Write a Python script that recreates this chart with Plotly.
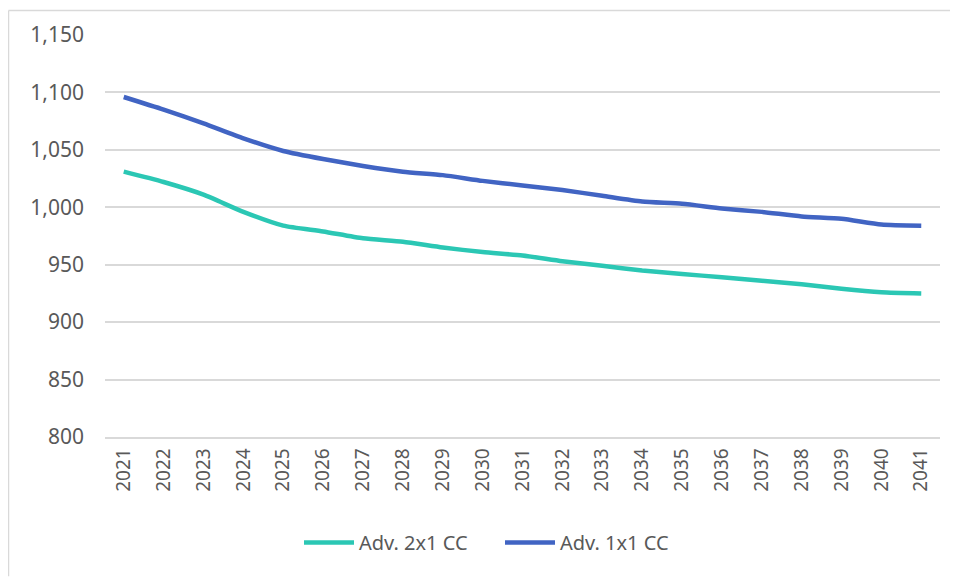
import plotly.graph_objects as go

years = [str(y) for y in range(2021, 2042)]
adv_2x1 = [1031, 1022, 1011, 996, 984, 979, 973, 970, 965, 961, 958,
           953, 949, 945, 942, 939, 936, 933, 929, 926, 925]
adv_1x1 = [1096, 1085, 1073, 1060, 1049, 1042, 1036, 1031, 1028, 1023, 1019,
           1015, 1010, 1005, 1003, 999, 996, 992, 990, 985, 984]

fig = go.Figure()
fig.add_trace(go.Scatter(x=years, y=adv_2x1, name="Adv. 2x1 CC", mode="lines",
                         line=dict(color="#2BC7B4", width=4.5, shape="spline", smoothing=0.6)))
fig.add_trace(go.Scatter(x=years, y=adv_1x1, name="Adv. 1x1 CC", mode="lines",
                         line=dict(color="#4164C3", width=4.5, shape="spline", smoothing=0.6)))

W, H = 958, 577
OFF = 8  # page body margin
ml, mr, mt, mb = 105 - OFF, 26, 33 - OFF, 148
pw, ph = W - ml - mr, H - mt - mb

def px_x(x):
    return (x - OFF - ml) / pw

def px_y(y):
    return (H - mb - (y - OFF)) / ph

fig.update_layout(
    width=W, height=H,
    margin=dict(l=ml, r=mr, t=mt, b=mb),
    paper_bgcolor="white", plot_bgcolor="white",
    font=dict(family="Noto Sans, Open Sans, sans-serif", color="#595959"),
    showlegend=True,
    legend=dict(orientation="h", x=px_x(299), xanchor="left", y=px_y(543), yanchor="middle",
                font=dict(size=20, color="#595959"), itemwidth=50, entrywidth=136),
    xaxis=dict(type="category", tickangle=-90, tickfont=dict(size=19, color="#595959"),
               showgrid=False, showline=True, linecolor="#D9D9D9", linewidth=1.5,
               ticks="", range=[-0.47, 20.47], ticklabelstandoff=2),
    yaxis=dict(range=[800, 1150], dtick=50, tickformat=",", showgrid=True,
               gridcolor="#D9D9D9", gridwidth=1.5, zeroline=False, showline=False,
               tickfont=dict(size=21, color="#595959"), ticks="", ticklabelstandoff=20),
    shapes=[
        dict(type="line", xref="paper", yref="paper",
             x0=px_x(OFF + 0.5), x1=px_x(OFF + 0.5), y0=px_y(OFF + 0.5), y1=px_y(577),
             line=dict(color="#D9D9D9", width=1.5), layer="below"),
        dict(type="line", xref="paper", yref="paper",
             x0=px_x(OFF + 0.5), x1=px_x(958), y0=px_y(OFF + 0.5), y1=px_y(OFF + 0.5),
             line=dict(color="#D9D9D9", width=1.5), layer="below"),
    ],
)

fig.write_html("out.html")
